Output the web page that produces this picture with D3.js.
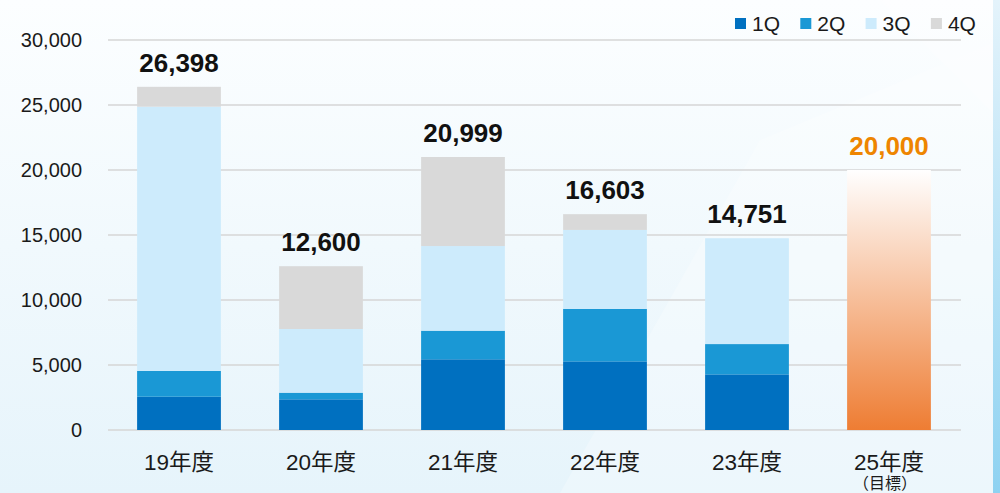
<!DOCTYPE html>
<html>
<head>
<meta charset="utf-8">
<script src="https://cdn.jsdelivr.net/npm/d3@7"></script>
<style>
  html, body { margin: 0; padding: 0; overflow: hidden; }
  body { width: 1000px; height: 493px; }
  text { font-family: "Liberation Sans", Arial, "Noto Sans CJK JP", sans-serif; }
</style>
</head>
<body>
<div id="chart"></div>
<script>
// fiscal years on the x axis
const years = ["19年度", "20年度", "21年度", "22年度", "23年度", "25年度"];
const quarters = ["1Q", "2Q", "3Q", "4Q"];
// quarterly values per year (25年度 is a target only)
const q1 = [2560, 2360, 5440, 5280, 4280, 0];
const q2 = [1980, 510, 2200, 4030, 2330, 0];
const q3 = [20330, 4900, 6510, 6080, 8141, 0];
const q4 = [1528, 4830, 6849, 1213, 0, 0];
const totals = [26398, 12600, 20999, 16603, 14751, 20000];
const targetYear = "25年度";
const targetValue = 20000;
const yTicks = [0, 5000, 10000, 15000, 20000, 25000, 30000];

const width = 1000, height = 493;
const margin = {top: 40, right: 40, bottom: 63, left: 108};

const colors = {"1Q": "#0070c0", "2Q": "#1a98d5", "3Q": "#cdebfc", "4Q": "#d9d9d9"};

const svg = d3.select("#chart").append("svg")
    .attr("width", width)
    .attr("height", height);

const defs = svg.append("defs");

// background gradient
let bg = defs.append("linearGradient").attr("id", "bg")
    .attr("x1", 0).attr("y1", 0).attr("x2", 0).attr("y2", 1);
bg.append("stop").attr("offset", "0%").attr("stop-color", "#fcfeff");
bg.append("stop").attr("offset", "100%").attr("stop-color", "#e6f4fb");

let strip = defs.append("linearGradient").attr("id", "strip")
    .attr("x1", 0).attr("y1", 0).attr("x2", 0).attr("y2", 1);
strip.append("stop").attr("offset", "0%").attr("stop-color", "#e4f3fb");
strip.append("stop").attr("offset", "100%").attr("stop-color", "#8ed2f1");

let target = defs.append("linearGradient").attr("id", "target")
    .attr("x1", 0).attr("y1", 0).attr("x2", 0).attr("y2", 1);
target.append("stop").attr("offset", "0%").attr("stop-color", "#ffffff");
target.append("stop").attr("offset", "100%").attr("stop-color", "#ee7d33");

svg.append("rect").attr("width", width).attr("height", height).attr("fill", "url(#bg)");

// faint diagonal sheen shapes
svg.append("path")
    .attr("d", "M560,493 L760,140 L1000,40 L1000,493 Z")
    .attr("fill", "#ffffff").attr("opacity", 0.25);
svg.append("path")
    .attr("d", "M880,0 L1000,120 L1000,0 Z")
    .attr("fill", "#ffffff").attr("opacity", 0.3);
svg.append("rect").attr("x", 993).attr("y", 0).attr("width", 7).attr("height", height)
    .attr("fill", "url(#strip)");

const x = d3.scaleBand()
    .domain(years)
    .range([margin.left, width - margin.right])
    .paddingInner(0.41)
    .paddingOuter(0.205);

const y = d3.scaleLinear()
    .domain([0, 30000])
    .range([height - margin.bottom, margin.top]);

// grid lines
svg.append("g")
    .selectAll("line")
    .data(yTicks)
    .join("line")
    .attr("x1", margin.left)
    .attr("x2", width - margin.right + 1)
    .attr("y1", d => y(d))
    .attr("y2", d => y(d))
    .attr("stroke", "#d6d6d6")
    .attr("stroke-width", 1.5);

// y axis labels
let yAxis = svg.append("g")
    .attr("transform", "translate(" + (margin.left - 26) + ",0)")
    .call(d3.axisLeft(y).tickValues(yTicks).tickSize(0).tickFormat(d3.format(",")));
yAxis.select(".domain").remove();
yAxis.selectAll("text")
    .attr("x", 0)
    .attr("font-size", 20)
    .attr("fill", "#1a1a1a")
    .style("font-family", "'Liberation Sans', Arial, sans-serif");

// stacked bars
const table = years.map((yr, i) => ({year: yr, "1Q": q1[i], "2Q": q2[i], "3Q": q3[i], "4Q": q4[i]}));
const stack = d3.stack().keys(quarters)(table.filter(d => d.year !== targetYear));

svg.append("g")
    .selectAll("g")
    .data(stack)
    .join("g")
    .attr("fill", d => colors[d.key])
    .selectAll("rect")
    .data(d => d.filter(s => s[1] > s[0]))
    .join("rect")
    .attr("x", d => x(d.data.year))
    .attr("width", x.bandwidth())
    .attr("y", d => y(d[1]))
    .attr("height", d => y(d[0]) - y(d[1]));

// target bar
svg.append("rect")
    .attr("x", x(targetYear))
    .attr("width", x.bandwidth())
    .attr("y", y(targetValue))
    .attr("height", y(0) - y(targetValue))
    .attr("fill", "url(#target)");

// total labels
svg.append("g")
    .selectAll("text")
    .data(years)
    .join("text")
    .attr("x", d => x(d) + x.bandwidth() / 2)
    .attr("y", (d, i) => y(totals[i]) - 15)
    .attr("text-anchor", "middle")
    .attr("font-size", 26)
    .attr("font-weight", "bold")
    .attr("fill", d => d === targetYear ? "#ee8500" : "#111")
    .text((d, i) => d3.format(",")(totals[i]));

// x axis labels
svg.append("g")
    .selectAll("text")
    .data(years)
    .join("text")
    .attr("x", d => x(d) + x.bandwidth() / 2)
    .attr("y", 470)
    .attr("text-anchor", "middle")
    .attr("font-size", 22.5)
    .attr("fill", "#1a1a1a")
    .text(d => d);

svg.append("text")
    .attr("x", x(targetYear) + x.bandwidth() / 2 - 4)
    .attr("y", 489)
    .attr("text-anchor", "middle")
    .attr("font-size", 16)
    .attr("fill", "#1a1a1a")
    .text("（目標）");

// legend
let legend = svg.append("g")
    .selectAll("g")
    .data(quarters)
    .join("g")
    .attr("transform", (d, i) => "translate(" + (735 + i * 65.3) + ",18)");
legend.append("rect")
    .attr("width", 11).attr("height", 11)
    .attr("fill", d => colors[d]);
legend.append("text")
    .attr("x", 17).attr("y", 13)
    .attr("font-size", 21)
    .attr("fill", "#1a1a1a")
    .text(d => d);
</script>
</body>
</html>
